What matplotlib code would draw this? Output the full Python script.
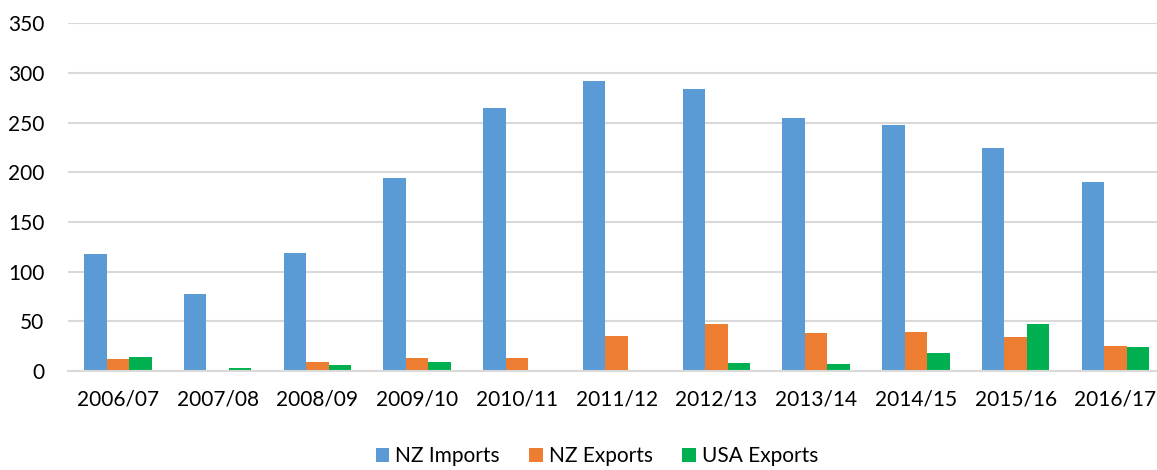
import matplotlib
matplotlib.use("Agg")
import matplotlib.pyplot as plt
import numpy as np
from matplotlib.patches import Patch

categories = ["2006/07", "2007/08", "2008/09", "2009/10", "2010/11", "2011/12",
              "2012/13", "2013/14", "2014/15", "2015/16", "2016/17"]
nz_imports = [118, 78, 119, 194, 265, 292, 284, 255, 248, 224, 190]
nz_exports = [12, 1, 9, 13, 13, 35, 47, 38, 39, 34, 25]
usa_exports = [14, 3, 6, 9, 0, 0, 8.5, 7.5, 18, 47, 24]
series_names = ["NZ Imports", "NZ Exports", "USA Exports"]
colors = ["#5B9BD5", "#ED7D31", "#00B050"]

plt.rcParams['font.family'] = ['Lato', 'DejaVu Sans']

W, H = 1157, 470
fig = plt.figure(figsize=(W / 100, H / 100), dpi=100)
left_px, right_px = 68, 1157
y0_px, ytop_px = 371, 23.3
ax = fig.add_axes([left_px / W, (H - y0_px) / H, (right_px - left_px) / W, (y0_px - ytop_px) / H])

x = np.arange(len(categories))
bw = 0.226
for i, (vals, name, c) in enumerate(zip([nz_imports, nz_exports, usa_exports], series_names, colors)):
    ax.bar(x + (i - 1) * bw, vals, width=bw, color=c, label=name, zorder=3)

ax.set_xlim(-0.5, -0.5 + (right_px - left_px) / 99.75)
ax.set_ylim(0, 350)
ax.set_yticks(range(0, 351, 50))
ax.set_xticks(x)
ax.set_xticklabels(categories)
ax.grid(axis='y', color='#D9D9D9', linewidth=1.5, zorder=0)
for s in ['top', 'right', 'left']:
    ax.spines[s].set_visible(False)
ax.spines['bottom'].set_color('#D9D9D9')
ax.spines['bottom'].set_linewidth(1.5)
ax.spines['bottom'].set_zorder(4)
ax.tick_params(axis='both', length=0, labelsize=15, colors='black')
ax.tick_params(axis='x', pad=13)
ax.tick_params(axis='y', pad=17)

handles = [Patch(facecolor=c, label=n) for c, n in zip(colors, series_names)]
fig.legend(handles=handles, loc='center', bbox_to_anchor=(597 / W, 1 - 456 / H),
           ncol=3, frameon=False, fontsize=15, handlelength=0.65, handleheight=0.65,
           handletextpad=0.3, columnspacing=1.4)

fig.savefig("out.png", dpi=100)
